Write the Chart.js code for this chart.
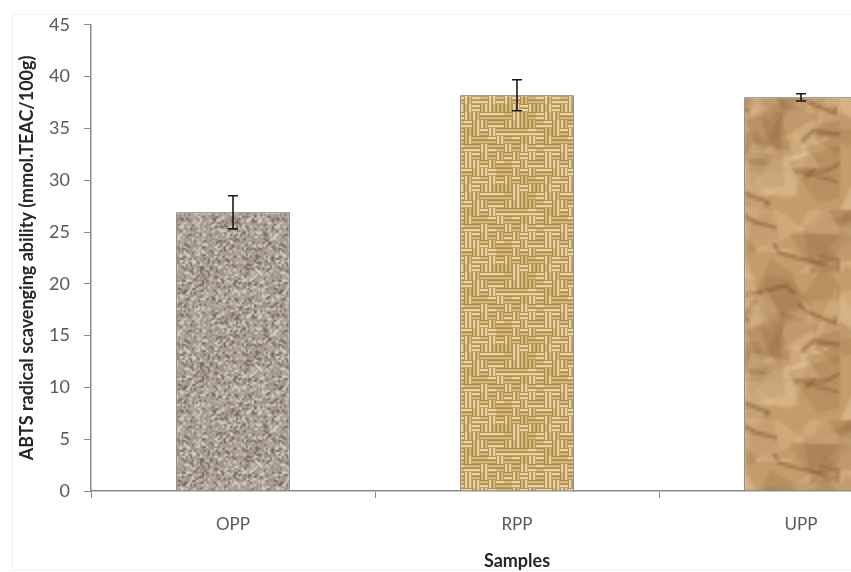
<!DOCTYPE html>
<html><head><meta charset="utf-8">
<script src="https://cdn.jsdelivr.net/npm/chart.js@4.4.1/dist/chart.umd.min.js"></script>
<style>html,body{margin:0;padding:0;background:#fff;overflow:hidden;width:851px;height:572px}#wrap{position:relative;width:960px;height:572px}</style>
</head><body>
<div id="wrap"><canvas id="c" width="960" height="572"></canvas></div>
<script>
// ---- data ----
const categories = ['OPP', 'RPP', 'UPP'];
const abtsValues = [26.9, 38.2, 38.0];
const abtsErrors = [1.6, 1.5, 0.35];
const yTicks = [0, 5, 10, 15, 20, 25, 30, 35, 40, 45];
const yTitle = 'ABTS radical scavenging ability (mmol.TEAC/100g)';
const xTitle = 'Samples';

// ---- texture helpers (styling only) ----
function rng(seed){return function(){seed|=0;seed=seed+0x6D2B79F5|0;let t=Math.imul(seed^seed>>>15,1|seed);t=t+Math.imul(t^t>>>7,61|t)^t;return((t^t>>>14)>>>0)/4294967296;};}
function soften(src,k){
  const w=src.width,h=src.height;
  const t=document.createElement('canvas');t.width=w+2;t.height=h+2;const tg=t.getContext('2d');
  for(let i=-1;i<=1;i++)for(let j=-1;j<=1;j++)tg.drawImage(src,1+i*w,1+j*h);
  const c=document.createElement('canvas');c.width=w*k;c.height=h*k;const g=c.getContext('2d');
  g.imageSmoothingEnabled=true;g.imageSmoothingQuality='high';
  g.drawImage(t,-k,-k,(w+2)*k,(h+2)*k);return c;
}
function makeSpeckle(ctx){
  const N=48;const c=document.createElement('canvas');c.width=c.height=N;const g=c.getContext('2d');const r=rng(7);
  for(let y=0;y<N;y++)for(let x=0;x<N;x++){const v=r();
    let col=v<0.14?[118,106,96]:(v<0.5?[158,147,136]:(v<0.84?[180,170,160]:[214,206,196]));
    g.fillStyle='rgb('+col.join(',')+')';g.fillRect(x,y,1,1);}
  return ctx.createPattern(soften(c,2),'repeat');
}
function makeWeave(ctx){
  const n=10,cs=8;const c=document.createElement('canvas');c.width=c.height=n*cs;const g=c.getContext('2d');const r=rng(5);
  g.fillStyle='#94743c';g.fillRect(0,0,n*cs,n*cs);
  for(let j=0;j<n;j++)for(let i=0;i<n;i++){
    const horiz=((i+j)%2===0)!==(r()<0.3);const ox=i*cs,oy=j*cs;
    for(let k=0;k<2;k++){
      g.fillStyle=r()<0.5?'#edd49e':'#d8b979';
      if(horiz)g.fillRect(ox,oy+k*4+0.7,cs,2.8);else g.fillRect(ox+k*4+0.7,oy,2.8,cs);
    }
  }
  return ctx.createPattern(soften(c,1),'repeat');
}
function makeCrumple(ctx){
  const S=70;const c=document.createElement('canvas');c.width=c.height=S;const g=c.getContext('2d');const r=rng(21);
  g.fillStyle='#c49c6c';g.fillRect(0,0,S,S);
  for(let i=0;i<60;i++){
    const cx=r()*S,cy=r()*S;g.beginPath();
    const m=3+Math.floor(r()*3);
    for(let k=0;k<m;k++){const a=k/m*Math.PI*2+r();const rr=4+r()*11;const px=cx+Math.cos(a)*rr,py=cy+Math.sin(a)*rr;k?g.lineTo(px,py):g.moveTo(px,py);}
    g.closePath();
    g.fillStyle=r()<0.5?'rgba(232,200,155,0.3)':'rgba(135,95,55,0.2)';g.fill();
  }
  for(let i=0;i<18;i++){
    let x=r()*S,y=r()*S;g.beginPath();g.moveTo(x,y);
    for(let k=0;k<3;k++){x+=(r()-0.25)*14;y+=(r()-0.45)*8;g.lineTo(x,y);}
    g.strokeStyle=r()<0.6?'rgba(100,66,35,0.4)':'rgba(240,215,175,0.45)';g.lineWidth=0.6+r()*0.6;g.stroke();
  }
  return ctx.createPattern(soften(c,3),'repeat');
}

const canvas=document.getElementById('c');const ctx=canvas.getContext('2d');
const fills=[makeSpeckle(ctx),makeWeave(ctx),makeCrumple(ctx)];

const errorBars={id:'errorBars',afterDatasetsDraw(chart){
  const y=chart.scales.y;const meta=chart.getDatasetMeta(0);const g=chart.ctx;
  g.save();g.strokeStyle='#1a1a1a';g.lineWidth=1.6;
  meta.data.forEach((bar,i)=>{
    const v=abtsValues[i],e=abtsErrors[i];const t=y.getPixelForValue(v+e),b=y.getPixelForValue(v-e);
    g.beginPath();g.moveTo(bar.x,t);g.lineTo(bar.x,b);
    g.moveTo(bar.x-5,t);g.lineTo(bar.x+5,t);g.moveTo(bar.x-5,b);g.lineTo(bar.x+5,b);g.stroke();
  });
  g.restore();
}};
const frame={id:'frame',beforeDraw(chart){const g=chart.ctx;g.save();g.strokeStyle='#f1f1f1';g.lineWidth=1;g.strokeRect(12.5,14.5,1000,556);g.restore();}};

new Chart(canvas,{
  type:'bar',
  data:{labels:categories,datasets:[{data:abtsValues,backgroundColor:fills,borderColor:'#5a5048',borderWidth:1,barPercentage:0.8,categoryPercentage:0.5}]},
  options:{
    responsive:false,animation:false,
    layout:{padding:{top:21,left:0,right:17,bottom:0}},
    plugins:{legend:{display:false},tooltip:{enabled:false}},
    scales:{
      y:{min:0,max:45,
        afterBuildTicks(s){s.ticks=yTicks.map(v=>({value:v}));},
        afterFit(s){s.width=91;},
        ticks:{color:'#595959',font:{family:'Lato',size:18},padding:14},
        grid:{drawOnChartArea:false,drawTicks:true,tickLength:7,color:'#8a8a8a'},
        border:{color:'#8a8a8a',width:1.5},
        title:{display:true,text:yTitle,color:'#262626',font:{family:'Lato',size:18,weight:'bold'},padding:{top:16,bottom:0}}
      },
      x:{offset:true,
        afterFit(s){s.height=81;},
        ticks:{color:'#595959',font:{family:'Lato',size:17},padding:16},
        grid:{offset:true,drawOnChartArea:false,drawTicks:true,tickLength:7,color:'#8a8a8a'},
        border:{color:'#8a8a8a',width:1.5},
        title:{display:true,text:xTitle,color:'#262626',font:{family:'Lato',size:18,weight:'bold'},padding:{top:0,bottom:0}}
      }
    }
  },
  plugins:[errorBars,frame]
});
</script>
</body></html>
